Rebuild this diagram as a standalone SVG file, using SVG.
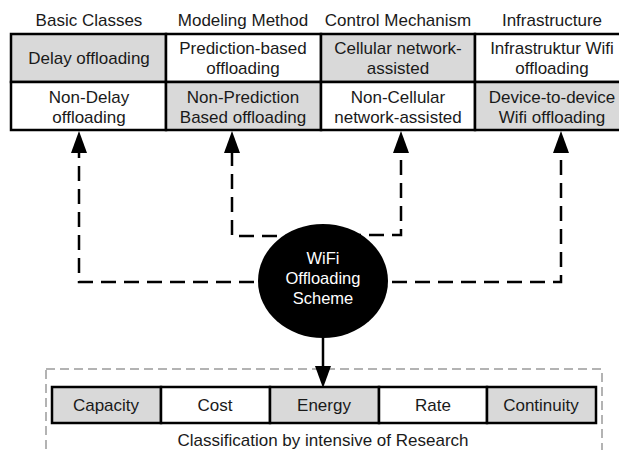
<svg xmlns="http://www.w3.org/2000/svg" width="619" height="450" viewBox="0 0 619 450">
  <style>
    text { font-family: "Liberation Sans", Arial, sans-serif; font-size: 17px; fill: #1a1a1a; text-anchor: middle; }
    .hdr { font-size: 17px; }
    .cell { stroke: #000; stroke-width: 2.5; }
    .gray { fill: #d9d9d9; }
    .white { fill: #ffffff; }
    .dash { fill: none; stroke: #000; stroke-width: 2.5; stroke-dasharray: 15 8; }
    .solid { fill: none; stroke: #000; stroke-width: 2.5; }
    .ctext { fill: #ffffff; font-size: 16.5px; }
  </style>
  <defs>
    <marker id="ah" viewBox="0 0 22 16" refX="0" refY="8" markerWidth="22" markerHeight="16" markerUnits="userSpaceOnUse" orient="auto">
      <path d="M0,0 L22,8 L0,16 z" fill="#000"/>
    </marker>
  </defs>
  <rect width="619" height="450" fill="#ffffff"/>

  <g id="headers">
    <text class="hdr" x="89" y="26">Basic Classes</text>
    <text class="hdr" x="243" y="26">Modeling Method</text>
    <text class="hdr" x="398" y="26">Control Mechanism</text>
    <text class="hdr" x="552" y="26">Infrastructure</text>
  </g>

  <g id="delay-offloading">
    <rect class="cell gray" x="11" y="34" width="155" height="48"/>
    <text x="89" y="64">Delay offloading</text>
  </g>
  <g id="non-delay-offloading">
    <rect class="cell white" x="11" y="82" width="155" height="48"/>
    <text x="89" y="103">Non-Delay</text>
    <text x="89" y="123">offloading</text>
  </g>
  <g id="prediction-based">
    <rect class="cell white" x="166" y="34" width="155" height="48"/>
    <text x="243" y="54">Prediction-based</text>
    <text x="243" y="74">offloading</text>
  </g>
  <g id="non-prediction">
    <rect class="cell gray" x="166" y="82" width="155" height="48"/>
    <text x="243" y="103">Non-Prediction</text>
    <text x="243" y="123">Based offloading</text>
  </g>
  <g id="cellular-assisted">
    <rect class="cell gray" x="321" y="34" width="154" height="48"/>
    <text x="398" y="54">Cellular network-</text>
    <text x="398" y="74">assisted</text>
  </g>
  <g id="non-cellular-assisted">
    <rect class="cell white" x="321" y="82" width="154" height="48"/>
    <text x="398" y="103">Non-Cellular</text>
    <text x="398" y="123">network-assisted</text>
  </g>
  <g id="infrastructure-wifi">
    <rect class="cell white" x="475" y="34" width="156" height="48"/>
    <text x="552" y="54">Infrastruktur Wifi</text>
    <text x="552" y="74">offloading</text>
  </g>
  <g id="device-to-device">
    <rect class="cell gray" x="475" y="82" width="156" height="48"/>
    <text x="552" y="103">Device-to-device</text>
    <text x="552" y="123">Wifi offloading</text>
  </g>

  <g id="research-box">
    <rect x="46" y="369" width="556" height="100" fill="none" stroke="#9a9a9a" stroke-width="1.5" stroke-dasharray="9 5"/>
    <text x="323" y="446">Classification by intensive of Research</text>
  </g>

  <g id="connectors">
    <path class="dash" d="M323,282 H79 V153" marker-end="url(#ah)"/>
    <path class="dash" d="M323,236 H232 V153" marker-end="url(#ah)"/>
    <path class="dash" d="M323,235 H401 V153" marker-end="url(#ah)"/>
    <path class="dash" d="M323,282 H561 V153" marker-end="url(#ah)"/>
    <path class="solid" d="M323,330 V366" marker-end="url(#ah)"/>
  </g>

  <g id="wifi-offloading-scheme">
    <ellipse cx="323" cy="281" rx="65" ry="57" fill="#000"/>
    <text class="ctext" x="323" y="264">WiFi</text>
    <text class="ctext" x="323" y="284">Offloading</text>
    <text class="ctext" x="323" y="304">Scheme</text>
  </g>

  <g id="capacity">
    <rect class="cell gray" x="52" y="387" width="109" height="36"/>
    <text x="106" y="411">Capacity</text>
  </g>
  <g id="cost">
    <rect class="cell white" x="161" y="387" width="109" height="36"/>
    <text x="215" y="411">Cost</text>
  </g>
  <g id="energy">
    <rect class="cell gray" x="270" y="387" width="109" height="36"/>
    <text x="324" y="411">Energy</text>
  </g>
  <g id="rate">
    <rect class="cell white" x="379" y="387" width="108" height="36"/>
    <text x="433" y="411">Rate</text>
  </g>
  <g id="continuity">
    <rect class="cell gray" x="487" y="387" width="109" height="36"/>
    <text x="541" y="411">Continuity</text>
  </g>
</svg>
